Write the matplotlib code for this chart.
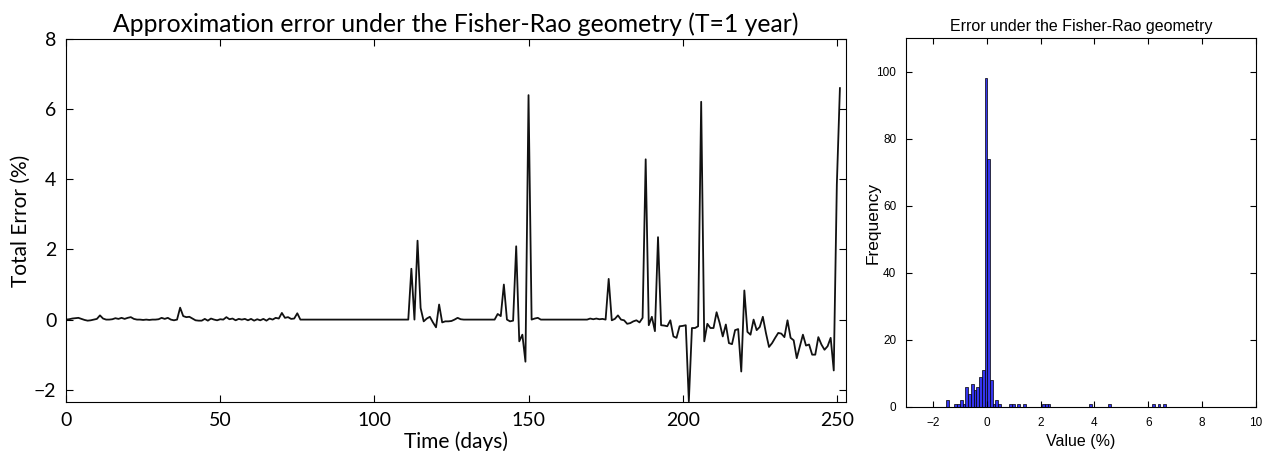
"""Approximation error under the Fisher-Rao geometry: time series + histogram."""

import matplotlib
matplotlib.use("Agg")
import matplotlib.pyplot as plt
import numpy as np

# daily total error (%), days 0..251
total_error = [
    0.00, 0.01, 0.03, 0.04, 0.05, 0.02, -0.01, -0.03, -0.02, 0.00,
    0.02, 0.12, 0.03, 0.00, 0.00, 0.01, 0.04, 0.02, 0.05, 0.02,
    0.05, 0.07, 0.02, 0.00, 0.00, -0.01, 0.00, -0.01, 0.00, 0.00,
    0.01, 0.05, 0.02, 0.05, 0.00, -0.02, 0.00, 0.34, 0.10, 0.07,
    0.08, 0.03, -0.02, -0.03, -0.03, 0.02, -0.03, 0.03, 0.00, -0.02,
    0.01, 0.00, 0.07, 0.01, 0.03, -0.02, 0.02, 0.00, 0.02, -0.02,
    0.02, -0.03, 0.01, -0.02, 0.02, -0.03, 0.03, 0.00, 0.05, 0.03,
    0.19, 0.05, 0.07, 0.02, 0.03, 0.18, 0.00, 0.00, 0.00, 0.00,
    0.00, 0.00, 0.00, 0.00, 0.00, 0.00, 0.00, 0.00, 0.00, 0.00,
    0.00, 0.00, 0.00, 0.00, 0.00, 0.00, 0.00, 0.00, 0.00, 0.00,
    0.00, 0.00, 0.00, 0.00, 0.00, 0.00, 0.00, 0.00, 0.00, 0.00,
    0.00, 0.00, 1.45, 0.00, 2.25, 0.33, -0.05, 0.03, 0.08, -0.08,
    -0.22, 0.43, -0.08, -0.05, -0.05, -0.04, 0.00, 0.05, 0.01, 0.00,
    0.00, 0.00, 0.00, 0.00, 0.00, 0.00, 0.00, 0.00, 0.00, 0.00,
    0.16, 0.10, 1.00, 0.00, -0.05, -0.03, 2.09, -0.62, -0.43, -1.20,
    6.40, 0.00, 0.03, 0.05, 0.00, 0.00, 0.00, 0.00, 0.00, 0.00,
    0.00, 0.00, 0.00, 0.00, 0.00, 0.00, 0.00, 0.00, 0.00, 0.00,
    0.03, 0.01, 0.03, 0.01, 0.02, 0.00, 1.16, -0.02, 0.02, 0.12,
    0.00, -0.02, -0.12, -0.10, -0.05, -0.02, -0.08, 0.05, 4.57, -0.16,
    0.08, -0.33, 2.35, -0.16, -0.17, -0.19, -0.02, -0.48, -0.52, -0.19,
    -0.18, -0.16, -2.33, -0.24, -0.24, -0.19, 6.21, -0.62, -0.12, -0.24,
    -0.24, 0.21, -0.10, -0.48, -0.14, -0.67, -0.70, -0.30, -0.27, -1.48,
    0.83, -0.35, -0.43, 0.00, -0.30, -0.21, 0.08, -0.38, -0.78, -0.67,
    -0.52, -0.38, -0.40, -0.50, -0.02, -0.52, -0.59, -1.10, -0.76, -0.43,
    -0.74, -0.71, -1.00, -1.00, -0.50, -0.71, -0.86, -0.76, -0.52, -1.45,
    3.85, 6.60,
]
days = np.arange(len(total_error))

# histogram: 80 bins from -1.51 to 6.65
hist_lo, hist_hi = -1.51, 6.65
hist_counts = [
    2, 0, 0, 1, 1, 2, 1, 6, 4, 7,
    5, 6, 9, 11, 98, 74, 8, 1, 2, 1,
    0, 0, 0, 1, 1, 0, 1, 0, 1, 0,
    0, 0, 0, 0, 0, 1, 1, 1, 0, 0,
    0, 0, 0, 0, 0, 0, 0, 0, 0, 0,
    0, 0, 1, 0, 0, 0, 0, 0, 0, 1,
    0, 0, 0, 0, 0, 0, 0, 0, 0, 0,
    0, 0, 0, 0, 0, 1, 0, 1, 0, 1,
]
edges = np.linspace(hist_lo, hist_hi, len(hist_counts) + 1)
centers = (edges[:-1] + edges[1:]) / 2

main_font = ["Lato", "DejaVu Sans"]
narrow_font = ["Liberation Sans", "DejaVu Sans"]

fig = plt.figure(figsize=(12.63, 4.51), dpi=100)

# 1. time series
ax = fig.add_axes([0.0523, 0.1086, 0.6176, 0.8049])
ax.plot(days, total_error, color="#111111", lw=1.3)
ax.set_xlim(0, 253)
ax.set_ylim(-2.35, 8)
ax.set_xticks([0, 50, 100, 150, 200, 250])
ax.set_yticks([-2, 0, 2, 4, 6, 8])
ax.tick_params(direction="in", top=True, right=True, length=5, labelsize=14, pad=7)
for lab in ax.get_xticklabels() + ax.get_yticklabels():
    lab.set_family(main_font)
ax.set_title("Approximation error under the Fisher-Rao geometry (T=1 year)",
             family=main_font, fontsize=17.8, pad=5)
ax.set_xlabel("Time (days)", family=main_font, fontsize=15, labelpad=2)
ax.set_ylabel("Total Error (%)", family=main_font, fontsize=15, labelpad=2)

# 2. histogram
ax2 = fig.add_axes([0.7173, 0.0976, 0.2771, 0.8182])
ax2.hist(centers, bins=edges, weights=hist_counts, color="#3535ee",
         edgecolor="black", linewidth=0.5)
ax2.set_xlim(-3, 10)
ax2.set_ylim(0, 110)
ax2.set_xticks([-2, 0, 2, 4, 6, 8, 10])
ax2.set_yticks([0, 20, 40, 60, 80, 100])
ax2.tick_params(direction="in", top=True, right=True, length=4, labelsize=8.5, pad=7)
for lab in ax2.get_xticklabels() + ax2.get_yticklabels():
    lab.set_family(narrow_font)
ax2.set_title("Error under the Fisher-Rao geometry", family=narrow_font,
              fontsize=11.5, pad=5)
ax2.set_xlabel("Value (%)", family=narrow_font, fontsize=11.5, labelpad=4)
ax2.set_ylabel("Frequency", family=narrow_font, fontsize=12.5, labelpad=-3)

fig.savefig("out.png", dpi=100)
plt.close(fig)
